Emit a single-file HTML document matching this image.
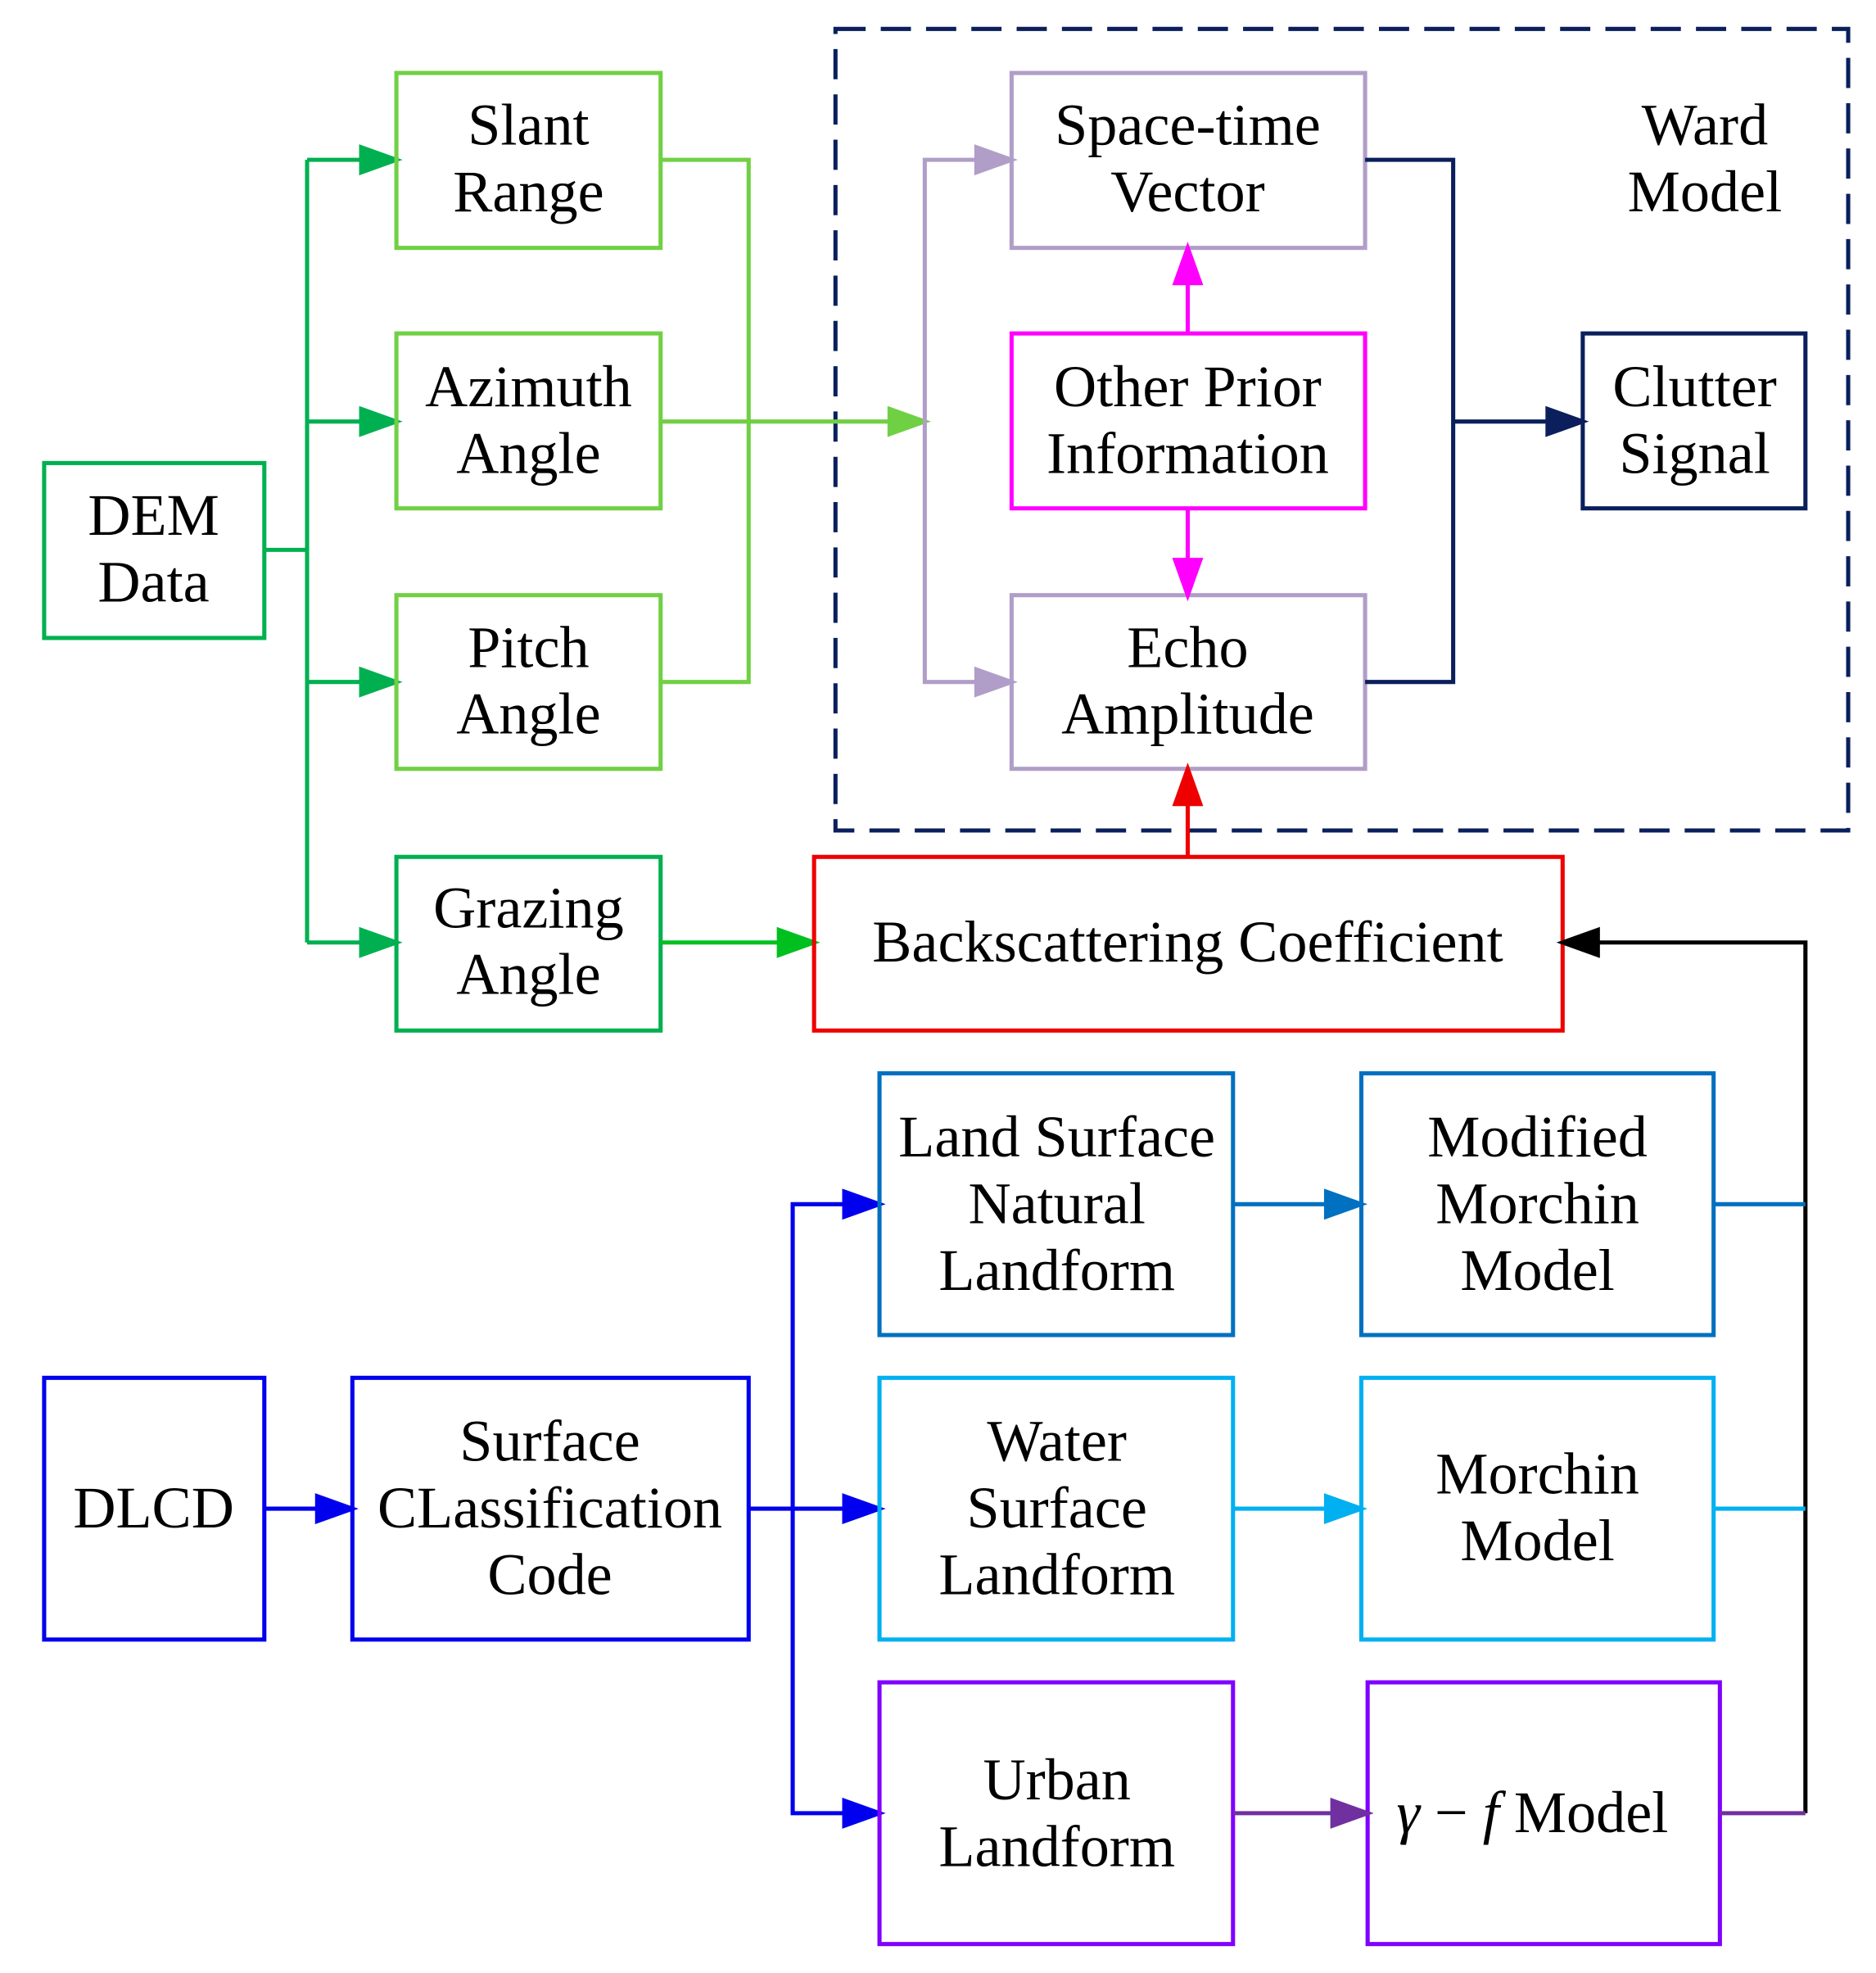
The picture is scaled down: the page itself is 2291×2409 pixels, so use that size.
<!DOCTYPE html>
<html><head><meta charset="utf-8"><style>html,body{margin:0;padding:0;background:#fff}svg{display:block}</style></head>
<body>
<svg width="2291" height="2409" viewBox="0 0 1491 1568" xmlns="http://www.w3.org/2000/svg" font-family="Liberation Serif, serif" font-size="47" text-anchor="middle">
<g fill="none" stroke-width="3.3">
<rect x="664" y="23" width="805" height="637" stroke="#0a1f5c" stroke-dasharray="24,12"/>
<rect x="35" y="368" width="175" height="139" stroke="#00b050"/>
<path d="M210,437H244M244,127V749" stroke="#00b050"/>
<g stroke="#00b050" fill="#00b050">
<path d="M244,127H287"/><path d="M287,117L315,127L287,137z"/>
<path d="M244,335H287"/><path d="M287,325L315,335L287,345z"/>
<path d="M244,542H287"/><path d="M287,532L315,542L287,552z"/>
<path d="M244,749H287"/><path d="M287,739L315,749L287,759z"/>
</g>
<rect x="315" y="58" width="210" height="139" stroke="#70d044"/>
<rect x="315" y="265" width="210" height="139" stroke="#70d044"/>
<rect x="315" y="473" width="210" height="138" stroke="#70d044"/>
<rect x="315" y="681" width="210" height="138" stroke="#00b050"/>
<path d="M525,127H595V542H525M525,335H707" stroke="#70d044"/>
<path d="M707,325L735,335L707,345z" fill="#70d044" stroke="#70d044"/>
<path d="M525,749H619" stroke="#00c020"/>
<path d="M619,739L647,749L619,759z" fill="#00c020" stroke="#00c020"/>
<path d="M776,127H735V542H776" stroke="#b09ec8"/>
<path d="M776,117L804,127L776,137z M776,532L804,542L776,552z" fill="#b09ec8" stroke="#b09ec8"/>
<rect x="804" y="58" width="281" height="139" stroke="#b09ec8"/>
<rect x="804" y="265" width="281" height="139" stroke="#ff00ff"/>
<rect x="804" y="473" width="281" height="138" stroke="#b09ec8"/>
<path d="M944,265V225M944,404V445" stroke="#ff00ff"/>
<path d="M934,225L944,197L954,225z M934,445L944,473L954,445z" fill="#ff00ff" stroke="#ff00ff"/>
<path d="M1085,127H1155V542H1085M1155,335H1230" stroke="#0a1f5c"/>
<path d="M1230,325L1258,335L1230,345z" fill="#0a1f5c" stroke="#0a1f5c"/>
<rect x="1258" y="265" width="177" height="139" stroke="#0a1f5c"/>
<rect x="647" y="681" width="595" height="138" stroke="#ee0000"/>
<path d="M944,681V639" stroke="#ee0000"/>
<path d="M934,639L944,611L954,639z" fill="#ee0000" stroke="#ee0000"/>
<path d="M1435,1441V749H1270" stroke="#000"/>
<path d="M1270,739L1242,749L1270,759z" fill="#000" stroke="#000"/>
<rect x="35" y="1095" width="175" height="208" stroke="#0000ee"/>
<rect x="280" y="1095" width="315" height="208" stroke="#0000ee"/>
<path d="M210,1199H252M595,1199H671M671,957H630V1441H671" stroke="#0000ee"/>
<path d="M252,1189L280,1199L252,1209z M671,947L699,957L671,967z M671,1189L699,1199L671,1209z M671,1431L699,1441L671,1451z" fill="#0000ee" stroke="#0000ee"/>
<rect x="699" y="853" width="281" height="208" stroke="#0070c0"/>
<rect x="1082" y="853" width="280" height="208" stroke="#0070c0"/>
<path d="M980,957H1054M1362,957H1435" stroke="#0070c0"/>
<path d="M1054,947L1082,957L1054,967z" fill="#0070c0" stroke="#0070c0"/>
<rect x="699" y="1095" width="281" height="208" stroke="#00b0f0"/>
<rect x="1082" y="1095" width="280" height="208" stroke="#00b0f0"/>
<path d="M980,1199H1054M1362,1199H1435" stroke="#00b0f0"/>
<path d="M1054,1189L1082,1199L1054,1209z" fill="#00b0f0" stroke="#00b0f0"/>
<rect x="699" y="1337" width="281" height="208" stroke="#7f00ff"/>
<rect x="1087" y="1337" width="280" height="208" stroke="#7f00ff"/>
<path d="M980,1441H1059M1367,1441H1435" stroke="#7030a0"/>
<path d="M1059,1431L1087,1441L1059,1451z" fill="#7030a0" stroke="#7030a0"/>
</g>
<g fill="#000">
<text x="122" y="425">DEM</text><text x="122" y="478">Data</text>
<text x="420" y="115">Slant</text><text x="420" y="168">Range</text>
<text x="420" y="323">Azimuth</text><text x="420" y="376">Angle</text>
<text x="420" y="530">Pitch</text><text x="420" y="583">Angle</text>
<text x="420" y="737">Grazing</text><text x="420" y="790">Angle</text>
<text x="944" y="115">Space-time</text><text x="944" y="168">Vector</text>
<text x="944" y="323">Other Prior</text><text x="944" y="376">Information</text>
<text x="944" y="530">Echo</text><text x="944" y="583">Amplitude</text>
<text x="1355" y="115">Ward</text><text x="1355" y="168">Model</text>
<text x="1347" y="323">Clutter</text><text x="1347" y="376">Signal</text>
<text x="944" y="764">Backscattering Coefficient</text>
<text x="840" y="919">Land Surface</text><text x="840" y="972">Natural</text><text x="840" y="1025">Landform</text>
<text x="1222" y="919">Modified</text><text x="1222" y="972">Morchin</text><text x="1222" y="1025">Model</text>
<text x="840" y="1161">Water</text><text x="840" y="1214">Surface</text><text x="840" y="1267">Landform</text>
<text x="1222" y="1187">Morchin</text><text x="1222" y="1240">Model</text>
<text x="122" y="1214">DLCD</text>
<text x="437" y="1161">Surface</text><text x="437" y="1214">CLassification</text><text x="437" y="1267">Code</text>
<text x="840" y="1430">Urban</text><text x="840" y="1483">Landform</text>
<text x="1218" y="1456"><tspan font-style="italic">γ</tspan> − <tspan font-style="italic">f</tspan> Model</text>
</g>
</svg>
</body></html>
